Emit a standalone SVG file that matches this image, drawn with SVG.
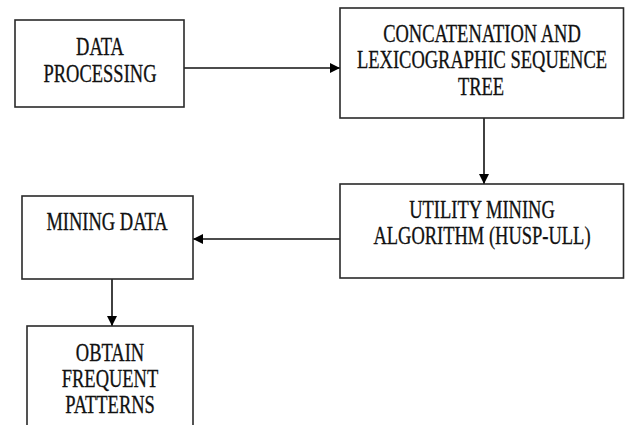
<svg xmlns="http://www.w3.org/2000/svg" width="625" height="425" viewBox="0 0 625 425">
<style>
.box{fill:#fff;stroke:#2a2a2a;stroke-width:1.6}
.t{font-family:"Liberation Serif","Times New Roman",serif;font-size:24.5px;fill:#111;text-anchor:middle;stroke:#111;stroke-width:0.3}
.c{stroke:#111;stroke-width:1.6;fill:none}
</style>
<defs>
<marker id="ah" markerWidth="10" markerHeight="10" refX="10" refY="5" orient="auto" markerUnits="userSpaceOnUse">
<path d="M0,0 L10,5 L0,10 Z" fill="#000"/>
</marker>
</defs>
<rect width="625" height="425" fill="#fff"/>
<g id="connectors">
<line class="c" x1="184" y1="68" x2="340" y2="68" marker-end="url(#ah)"/>
<line class="c" x1="484" y1="118" x2="484" y2="184" marker-end="url(#ah)"/>
<line class="c" x1="340" y1="239" x2="193" y2="239" marker-end="url(#ah)"/>
<line class="c" x1="112" y1="279" x2="112" y2="326" marker-end="url(#ah)"/>
</g>
<g id="n1">
<rect class="box" x="15" y="20" width="169" height="87"/>
<g transform="scale(0.755,1)">
<text class="t" x="132.45" y="55">DATA</text>
<text class="t" x="132.45" y="82">PROCESSING</text>
</g>
</g>
<g id="n2">
<rect class="box" x="340" y="8" width="283.5" height="110"/>
<g transform="scale(0.755,1)">
<text class="t" x="638.41" y="42">CONCATENATION AND</text>
<text class="t" x="638.41" y="68">LEXICOGRAPHIC SEQUENCE</text>
<text class="t" x="637.09" y="95">TREE</text>
</g>
</g>
<g id="n3">
<rect class="box" x="340" y="184" width="283.5" height="94"/>
<g transform="scale(0.755,1)">
<text class="t" x="638.41" y="218">UTILITY MINING</text>
<text class="t" x="638.41" y="244">ALGORITHM (HUSP-ULL)</text>
</g>
</g>
<g id="n4">
<rect class="box" x="22" y="196" width="171" height="83"/>
<g transform="scale(0.755,1)">
<text class="t" x="141.72" y="230">MINING DATA</text>
</g>
</g>
<g id="n5">
<rect class="box" x="27" y="326" width="166" height="110"/>
<g transform="scale(0.755,1)">
<text class="t" x="145.7" y="361">OBTAIN</text>
<text class="t" x="145.7" y="387">FREQUENT</text>
<text class="t" x="145.7" y="413">PATTERNS</text>
</g>
</g>
</svg>
